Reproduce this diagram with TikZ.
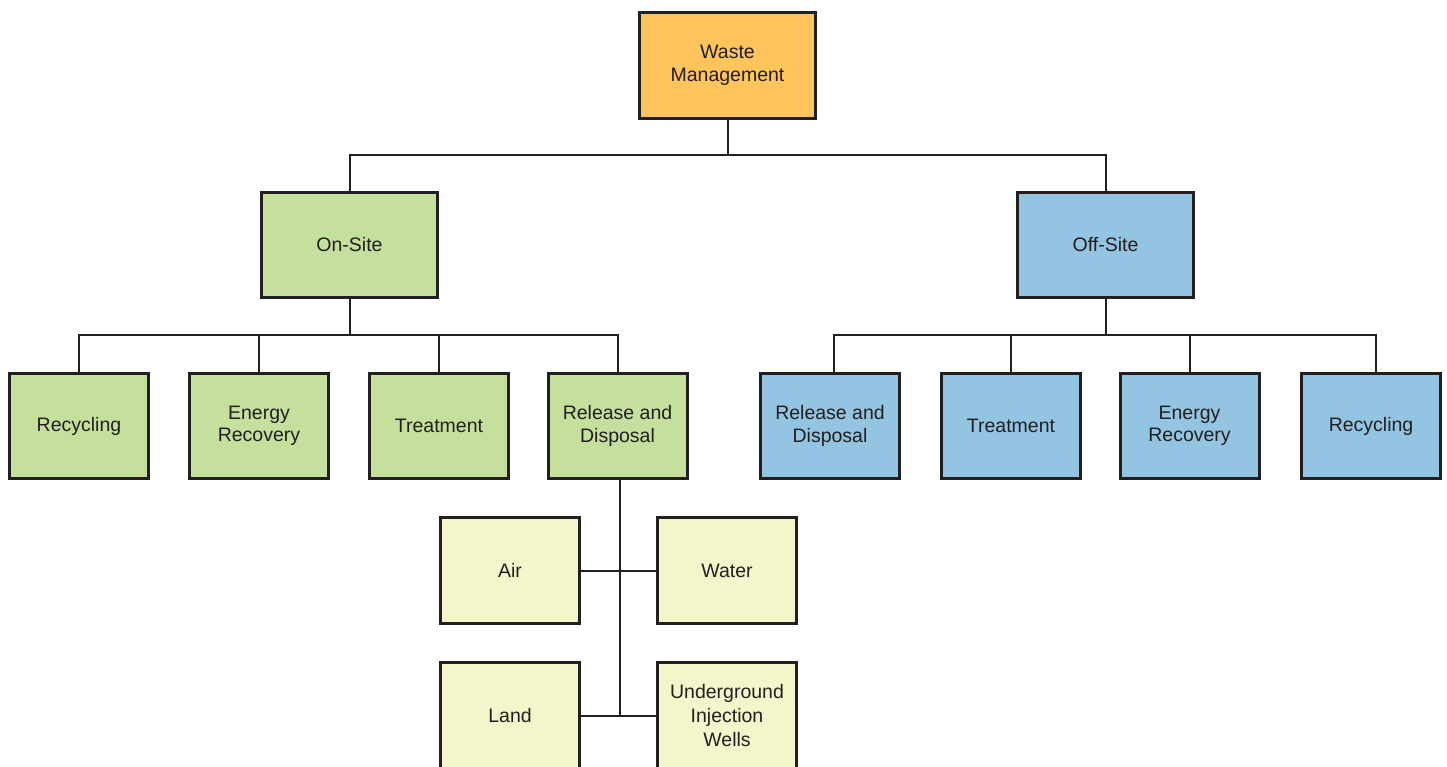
\documentclass[tikz,border=0pt]{standalone}
\usepackage{fontspec}
\setmainfont{Liberation Sans}
\definecolor{ink}{HTML}{231F20}
\definecolor{orangeF}{HTML}{FFC55C}
\definecolor{greenF}{HTML}{C5DF9C}
\definecolor{blueF}{HTML}{93C4E1}
\definecolor{yellowF}{HTML}{F4F5CB}
\tikzset{
  box/.style={draw=ink, line width=3pt, inner sep=0pt, outer sep=0pt, align=center,
    text=ink, font=\fontsize{19.5}{22.5}\selectfont},
  top/.style={box, fill=orangeF, minimum width=176pt, minimum height=106pt},
  mid/.style={box, minimum width=176pt, minimum height=105pt},
  leaf/.style={box, minimum width=139pt, minimum height=105pt},
  sub/.style={box, fill=yellowF, minimum width=139pt, minimum height=106pt},
  conn/.style={draw=ink, line width=2pt}
}
\begin{document}
\begin{tikzpicture}[x=1pt,y=-1pt]
\useasboundingbox (0,0) rectangle (1447,767);
\clip (0,0) rectangle (1447,767);
\fill[white] (0,0) rectangle (1447,767);
% nodes
\node[top] (wm) at (727.5,65.5) {Waste\\Management};
\node[mid, fill=greenF] (on) at (349.5,245) {On-Site};
\node[mid, fill=blueF] (off) at (1105.5,245) {Off-Site};
\node[leaf, fill=greenF] (g1) at (79,426) {Recycling};
\node[leaf, fill=greenF] (g2) at (259,426) {Energy\\Recovery};
\node[leaf, fill=greenF] (g3) at (439,426) {Treatment};
\node[leaf, fill=greenF] (g4) at (617.5,426) {Release and\\Disposal};
\node[leaf, fill=blueF] (b1) at (830,426) {Release and\\Disposal};
\node[leaf, fill=blueF] (b2) at (1011,426) {Treatment};
\node[leaf, fill=blueF] (b3) at (1189.5,426) {Energy\\Recovery};
\node[leaf, fill=blueF] (b4) at (1371,426) {Recycling};
\node[sub] (air) at (510,570.5) {Air};
\node[sub] (water) at (727,570.5) {Water};
\node[sub] (land) at (510,715.5) {Land};
\node[sub, font=\fontsize{19.5}{24}\selectfont] (ug) at (727,715.5) {Underground\\Injection\\Wells};
% connectors
\draw[conn] (wm.south) -- ++(0,37) coordinate (j0);
\draw[conn] (j0) -| (on.north);
\draw[conn] (j0) -| (off.north);
\draw[conn] (on.south) -- ++(0,37.5) coordinate (j1);
\draw[conn] (j1) -| (g1.north);
\draw[conn] (j1) -| (g2.north);
\draw[conn] (j1) -| (g3.north);
\draw[conn] (j1) -| (g4.north);
\draw[conn] (off.south) -- ++(0,37.5) coordinate (j2);
\draw[conn] (j2) -| ([xshift=3.5pt]b1.north);
\draw[conn] (j2) -| (b2.north);
\draw[conn] (j2) -| (b3.north);
\draw[conn] (j2) -| ([xshift=4.5pt]b4.north);
\coordinate (t) at (620,715.5);
\draw[conn] (g4.south -| t) -- (t);
\draw[conn] (air.east) -- (water.west);
\draw[conn] (land.east) -- (ug.west);
\end{tikzpicture}
\end{document}
